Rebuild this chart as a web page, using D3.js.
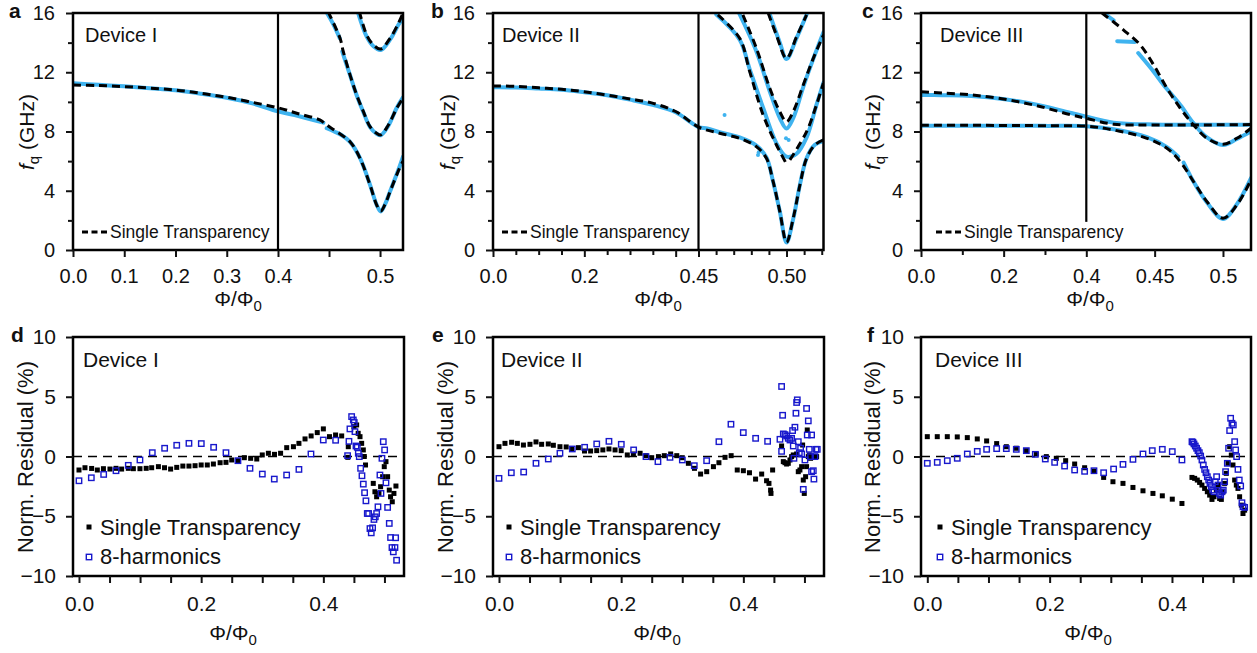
<!DOCTYPE html>
<html>
<head>
<meta charset="utf-8">
<script src="https://cdn.jsdelivr.net/npm/d3@7"></script>
<style>
body { margin: 0; background: #fff; }
text { font-family: "Liberation Sans", Arial, sans-serif; fill: #111; }
</style>
</head>
<body>
<div id="chart"></div>
<script>
// ---------- top row: f_q vs flux (theory = dashed, measured = blue) ----------
var fitA1 = [[0,11.14],[0.05,11.1],[0.1,11.03],[0.15,10.93],[0.2,10.8],[0.25,10.58],[0.3,10.31],[0.35,9.97],[0.4,9.6],[0.42,9.2],[0.441,8.78],[0.4477,8.44],[0.4576,7.99],[0.4706,7.31],[0.4804,6.19],[0.4902,4.39],[0.4967,3.04],[0.5007,2.63],[0.505,3.1],[0.5098,3.94],[0.519,5.51],[0.5225,6.0]];
var fitA2 = [[0.449,16.1],[0.4608,14.29],[0.464,13.39],[0.4706,11.82],[0.4771,10.47],[0.4837,9.34],[0.4902,8.33],[0.4967,7.88],[0.5007,7.77],[0.5082,8.44],[0.5164,9.57],[0.5225,10.25]];
var fitA3 = [[0.4797,16.1],[0.4869,14.52],[0.4935,13.84],[0.5007,13.57],[0.5098,14.29],[0.518,15.3],[0.5225,16.0]];
var dataA = [
  [[0,11.25],[0.05,11.15],[0.1,11.05],[0.15,10.92],[0.2,10.78],[0.25,10.55],[0.3,10.28],[0.35,9.9],[0.4,9.36],[0.42,9.05],[0.4445,8.6]],
  [[0.4477,8.22],[0.455,8.0],[0.4625,7.75],[0.4706,7.3],[0.4804,6.2],[0.4902,4.4],[0.4967,3.05],[0.5007,2.6],[0.505,3.1],[0.5098,3.95],[0.519,5.6],[0.5225,6.3]],
  [[0.448,16.0],[0.4545,15.2],[0.4605,14.3]],
  [[0.463,13.4],[0.4706,11.8],[0.4771,10.45],[0.4837,9.3],[0.4902,8.3],[0.4967,7.85],[0.5007,7.75],[0.5082,8.4],[0.5164,9.6],[0.5225,10.3]],
  [[0.4785,16.0],[0.4869,14.4],[0.4935,13.75],[0.5007,13.5],[0.5098,14.2],[0.518,15.2],[0.5225,15.7]]
];

var fitB1 = [[0,11.07],[0.05,11.05],[0.1,10.95],[0.15,10.85],[0.198,10.69],[0.25,10.45],[0.3,10.2],[0.351,9.9],[0.4,9.35],[0.45,8.3],[0.462,7.88],[0.4734,7.54],[0.4829,6.98],[0.4886,6.19],[0.4924,4.61],[0.4962,2.59],[0.5,0.52],[0.5038,2.14],[0.5076,4.39],[0.5114,6.19],[0.5161,7.09],[0.521,7.43]];
var fitB2 = [[0.461,15.87],[0.4734,14.29],[0.4791,12.04],[0.4867,9.12],[0.4943,7.09],[0.5003,5.74]];
var fitB2r = [[0.5019,6.08],[0.5114,7.99],[0.517,9.79],[0.5209,11.26]];
var fitB3 = [[0.4752,15.87],[0.4829,13.62],[0.4905,10.92],[0.4962,9.34],[0.5,8.66],[0.5038,9.34],[0.5095,11.14],[0.5152,12.94],[0.521,14.52]];
var fitB4 = [[0.4896,16],[0.4943,14.5],[0.5,12.94],[0.5057,14.4],[0.5114,15.87]];
var dataB = [
  [[0,10.98],[0.05,10.97],[0.1,10.9],[0.15,10.82],[0.2,10.65],[0.25,10.45],[0.3,10.15],[0.35,9.8],[0.4,9.3],[0.45,8.3],[0.455,8.2],[0.462,7.95],[0.4734,7.6],[0.4829,7.05],[0.4886,6.25],[0.4924,4.6],[0.4962,2.6],[0.5,0.5],[0.5038,2.1],[0.5076,4.4],[0.5114,6.2],[0.5161,7.1],[0.521,7.35]],
  [[0.4601,15.9],[0.4734,14.2],[0.4791,12.2],[0.4867,9.6],[0.4943,7.2],[0.5,6.3],[0.5057,6.5],[0.5114,7.6],[0.517,9.8],[0.521,11.3]],
  [[0.473,16.0],[0.4829,13.4],[0.4905,10.7],[0.4962,8.9],[0.5,8.2],[0.5038,8.9],[0.5095,11.0],[0.5152,12.9],[0.521,14.7]],
  [[0.4905,15.9],[0.4962,14.0],[0.5,12.9],[0.5057,14.3],[0.5114,15.9]]
];
var strayB = [[0.4648,9.12],[0.4838,6.41],[0.4997,7.54],[0.5012,7.43],[0.4842,6.6]];

var fitC1 = [[0,10.69],[0.05,10.6],[0.1218,10.47],[0.2027,10.18],[0.283,9.72],[0.364,9.12],[0.4,8.89],[0.42,8.49],[0.45,8.44],[0.5,8.45],[0.5205,8.47]];
var fitC2 = [[0,8.42],[0.1,8.42],[0.2,8.41],[0.3,8.39],[0.4,8.36],[0.42,8.1],[0.4444,7.54],[0.459,6.87],[0.4688,5.96],[0.4785,4.61],[0.4883,3.26],[0.5,2.14],[0.5102,3.04],[0.5205,4.73]];
var fitC3 = [[0.4115,16.0],[0.4273,14.85],[0.4395,13.84],[0.4493,12.49],[0.459,10.92],[0.4688,9.57],[0.4785,8.44],[0.4883,7.54],[0.5,7.14],[0.5102,7.54],[0.5205,8.22]];
var dataC = [
  [[0,10.47],[0.05,10.45],[0.1218,10.4],[0.2027,10.18],[0.283,9.8],[0.364,9.25],[0.4,9.0],[0.42,8.6],[0.45,8.47],[0.5,8.45],[0.5205,8.45]],
  [[0,8.39],[0.1,8.39],[0.2,8.39],[0.3,8.38],[0.4,8.36],[0.42,8.15],[0.4444,7.62],[0.459,6.95],[0.4672,6.3]],
  [[0.4712,5.9],[0.4785,4.6],[0.4883,3.2],[0.5,2.1],[0.5102,3.1],[0.5205,4.85]],
  [[0.4125,16.0],[0.42,15.5]],
  [[0.4226,14.1],[0.4355,14.05]],
  [[0.438,13.3],[0.4493,12.04],[0.4566,11.14],[0.4688,9.79],[0.4785,8.55],[0.4883,7.6],[0.5,7.09],[0.5102,7.5],[0.5205,8.0]]
];

// ---------- bottom row: normalised residuals (%) ----------
var singleD = [[0,-1.13],[0.0098,-0.94],[0.0207,-1.0],[0.03,-1.13],[0.04,-1.02],[0.0507,-1.05],[0.0606,-0.99],[0.0698,-1.05],[0.0807,-0.99],[0.089,-1.02],[0.0998,-1.02],[0.11,-0.99],[0.119,-0.94],[0.13,-0.85],[0.14,-0.94],[0.15,-1.05],[0.16,-0.91],[0.17,-0.8],[0.18,-0.8],[0.19,-0.77],[0.2,-0.71],[0.21,-0.71],[0.22,-0.63],[0.231,-0.52],[0.2406,-0.49],[0.25,-0.29],[0.261,-0.35],[0.2706,-0.1],[0.281,-0.15],[0.291,-0.21],[0.3,0.13],[0.31,0.27],[0.32,0.18],[0.33,0.27],[0.34,0.74],[0.351,0.82],[0.36,1.1],[0.37,1.47],[0.38,1.72],[0.39,2.0],[0.4,2.31],[0.41,1.66],[0.42,1.8],[0.43,1.72],[0.44,-0.07],[0.4408,0.82],[0.45,2.5],[0.4545,2.64],[0.457,1.94],[0.46,1.66],[0.4627,1.1],[0.4654,0.55],[0.467,0],[0.469,-0.71],[0.4817,-2.25],[0.4844,-2.95],[0.4872,-3.37],[0.491,-3.09],[0.4937,-2.53],[0.497,-1.69],[0.4997,-0.85],[0.5025,-0.43],[0.5052,-1.69],[0.5079,-2.81],[0.51,-3.37],[0.5128,-3.79],[0.5155,-3.09],[0.5188,-2.47]];
var harmD = [[0,-2.03],[0.0202,-1.78],[0.0404,-1.5],[0.0606,-1.19],[0.0807,-0.74],[0.0998,-0.29],[0.12,0.32],[0.1402,0.69],[0.16,0.94],[0.18,1.1],[0.2002,1.08],[0.2204,0.77],[0.2406,0.32],[0.2602,-0.35],[0.2799,-0.99],[0.3001,-1.47],[0.3197,-1.89],[0.3399,-1.55],[0.36,-1.08],[0.3797,0.21],[0.3999,1.38],[0.4201,1.36],[0.4397,0.07],[0.4419,1.27],[0.4435,2.31],[0.4463,3.34],[0.449,3.06],[0.4506,2.84],[0.4517,2.08],[0.4534,0.88],[0.4555,0.77],[0.4572,0.27],[0.4588,-0.01],[0.461,-0.99],[0.4632,-1.61],[0.4654,-2.31],[0.4675,-3.03],[0.4697,-3.71],[0.4719,-4.77],[0.4741,-4.77],[0.4763,-6.03],[0.4784,-6.39],[0.4806,-5.97],[0.4828,-5.27],[0.485,-5.05],[0.4872,-4.77],[0.4894,-4.21],[0.4926,-1.55],[0.4943,-3.09],[0.4959,-0.15],[0.4981,1.24],[0.5003,0.55],[0.5025,-2.2],[0.5052,-4.26],[0.5079,-5.6],[0.51,-6.78],[0.5123,-7.62],[0.5145,-7.98],[0.5172,-7.62],[0.5183,-6.8],[0.5199,-8.68]];

var singleE = [[0,0.82],[0.0098,1.1],[0.0207,1.19],[0.03,1.1],[0.04,0.96],[0.0507,1.02],[0.0606,1.22],[0.0698,1.02],[0.0807,1.05],[0.089,0.94],[0.0998,0.82],[0.11,0.8],[0.119,0.66],[0.13,0.74],[0.14,0.46],[0.15,0.46],[0.16,0.49],[0.17,0.55],[0.18,0.63],[0.19,0.55],[0.2,0.49],[0.21,0.13],[0.22,0.21],[0.231,0.27],[0.2406,0.07],[0.25,-0.1],[0.261,-0.01],[0.2706,0.07],[0.281,0.21],[0.291,0.07],[0.3,-0.1],[0.31,-0.57],[0.32,-0.99],[0.33,-1.47],[0.34,-1.27],[0.351,-0.85],[0.36,-0.52],[0.37,-0.07],[0.38,0.07],[0.39,-1.13],[0.4,-1.19],[0.41,-1.36],[0.42,-1.89],[0.43,-1.47],[0.438,-2.03],[0.4419,-2.25],[0.4446,-2.81],[0.4452,-3.09],[0.4479,-1.13],[0.4626,0.88],[0.4654,-0.43],[0.4681,-0.52],[0.4708,-0.63],[0.4735,-0.57],[0.4763,-0.29],[0.479,-0.01],[0.4817,0.13],[0.4872,0.21],[0.4899,-1.27],[0.4926,-1.13],[0.4954,-0.85],[0.497,0.96],[0.4981,-1.97],[0.4997,-3.09],[0.5019,-1.69],[0.5035,-0.85],[0.5046,2.22],[0.5063,-0.01],[0.5079,0.13],[0.51,-0.15],[0.5134,-0.01],[0.5172,-0.01],[0.5199,-0.01]];
var harmE = [[0,-1.83],[0.0202,-1.36],[0.0404,-1.3],[0.0606,-0.57],[0.0807,-0.21],[0.0998,0.27],[0.12,0.63],[0.1402,0.77],[0.16,1.05],[0.18,1.27],[0.2002,1.02],[0.2204,0.55],[0.2406,-0.01],[0.2602,-0.43],[0.2799,-0.07],[0.3001,-0.29],[0.3197,-0.77],[0.3399,-0.35],[0.36,1.24],[0.3797,2.7],[0.3999,2.0],[0.4201,1.52],[0.4397,1.27],[0.4599,1.44],[0.4626,5.86],[0.4643,3.45],[0.4626,0.43],[0.4654,1.89],[0.4681,1.83],[0.4708,1.72],[0.4735,1.52],[0.4763,1.38],[0.479,1.52],[0.4817,0.88],[0.4806,2.17],[0.4844,2.45],[0.4861,3.62],[0.4872,4.52],[0.4883,4.74],[0.4828,-0.15],[0.4899,1.24],[0.4916,0.32],[0.4937,0.69],[0.4954,0.21],[0.4981,-2.75],[0.5008,-0.29],[0.5035,4.02],[0.5063,2.98],[0.5046,1.8],[0.5079,0.6],[0.51,-0.01],[0.5117,1.8],[0.5117,-1.27],[0.5145,-1.19],[0.5155,-1.89],[0.5172,-0.01],[0.5188,0.6],[0.521,0.6]];

var singleF = [[0,1.66],[0.0163,1.66],[0.0327,1.66],[0.049,1.64],[0.0654,1.58],[0.0817,1.47],[0.097,1.3],[0.1134,1.08],[0.1292,0.82],[0.1455,0.69],[0.1619,0.49],[0.1782,0.21],[0.1946,-0.01],[0.2109,-0.15],[0.2262,-0.35],[0.2409,-0.63],[0.2572,-0.94],[0.2725,-1.22],[0.2883,-1.75],[0.3035,-2.11],[0.3199,-2.25],[0.3362,-2.59],[0.3526,-2.87],[0.3689,-3.09],[0.3842,-3.29],[0.4005,-3.57],[0.4163,-3.93],[0.4327,-1.75],[0.4371,-1.83],[0.4414,-1.97],[0.4452,-2.17],[0.449,-2.39],[0.4534,-2.67],[0.4578,-2.95],[0.4616,-3.23],[0.4654,-3.59],[0.4687,-3.37],[0.4725,-2.81],[0.4752,-2.39],[0.4779,-3.51],[0.4807,-3.59],[0.4834,-2.95],[0.4861,-2.25],[0.4888,-1.41],[0.4916,-0.57],[0.4943,0.82],[0.497,0.12],[0.4997,-0.71],[0.5025,-1.97],[0.5052,-2.39],[0.5079,-2.67],[0.5106,-3.37],[0.5134,-4.07],[0.5161,-4.77],[0.5188,-4.49]];
var harmF = [[0,-0.57],[0.0163,-0.49],[0.0327,-0.35],[0.049,-0.15],[0.0654,0.21],[0.0817,0.43],[0.097,0.6],[0.1134,0.66],[0.1292,0.66],[0.1455,0.6],[0.1619,0.49],[0.1766,0.18],[0.1929,-0.21],[0.2082,-0.49],[0.2245,-0.8],[0.2409,-1.13],[0.2572,-1.24],[0.2725,-1.19],[0.2883,-1.36],[0.3046,-1.05],[0.3199,-0.66],[0.3362,-0.24],[0.3526,0.21],[0.3678,0.49],[0.3842,0.6],[0.4005,0.41],[0.4163,-0.29],[0.4327,1.24],[0.4343,1.19],[0.436,1.05],[0.4381,0.88],[0.4403,0.69],[0.4425,0.49],[0.4447,0.32],[0.4469,0.04],[0.449,-0.29],[0.4512,-0.71],[0.4534,-1.08],[0.4556,-1.36],[0.4578,-1.69],[0.46,-1.97],[0.4621,-2.25],[0.4643,-2.53],[0.4665,-2.81],[0.4687,-2.95],[0.4708,-2.11],[0.473,-1.69],[0.4752,-2.39],[0.4774,-3.09],[0.4796,-3.23],[0.4817,-2.95],[0.4839,-2.81],[0.4861,-2.11],[0.4877,-1.27],[0.4905,-0.57],[0.4926,0.69],[0.4943,2.17],[0.4959,3.2],[0.4981,2.78],[0.5003,2.64],[0.5025,1.24],[0.5041,0.55],[0.5057,-0.01],[0.5079,-1.08],[0.51,-1.97],[0.5123,-2.47],[0.5144,-3.87],[0.5161,-4.21],[0.5188,-4.26]];

// tick values / labels
var ticksA = [0, 0.1, 0.2, 0.3, 0.4, 0.45, 0.5];
var labelsA = ["0.0", "0.1", "0.2", "0.3", "0.4", "", "0.5"];
var ticksB = [0, 0.2, 0.4, 0.45, 0.5];
var labelsB = ["0.0", "0.2", "", "0.45", "0.50"];
var minorB = [0.05, 0.1, 0.15, 0.25, 0.3, 0.35, 0.46, 0.47, 0.48, 0.49, 0.51, 0.52];
var ticksC = [0, 0.2, 0.4, 0.45, 0.5];
var labelsC = ["0.0", "0.2", "0.4", "0.45", "0.5"];
var minorC = [0.1, 0.3];
var freqTicks = [0, 4, 8, 12, 16];
var freqMinor = [2, 6, 10, 14];
var resTicks = [-10, -5, 0, 5, 10];
var fluxTicks = [0, 0.05, 0.1, 0.15, 0.2, 0.25, 0.3, 0.35, 0.4, 0.45, 0.5];

var lightBlue = "#3fb3ef";
var darkBlue = "#1818cc";

function init() {
    var width = 1257;
    var height = 653;

    var svg = d3.select("#chart")
        .append("svg")
        .attr("width", width)
        .attr("height", height);

    function styleAxis(sel, fontSize) {
        sel.select(".domain").remove();
        sel.selectAll(".tick line").attr("stroke", "#111").attr("stroke-width", 2);
        sel.selectAll(".tick text").style("font-size", fontSize + "px").attr("fill", "#111")
            .style("font-family", "'Liberation Sans', Arial, sans-serif");
    }

    function fluxTitle(g, cx, cy) {
        var t = g.append("text").attr("x", cx).attr("y", cy).attr("text-anchor", "middle")
            .style("font-size", "21px");
        t.append("tspan").text("\u03A6/\u03A6");
        t.append("tspan").attr("dy", 5).style("font-size", "15px").text("0");
    }

    // ----- top panels -----
    function topPanel(p) {
        var x = d3.scaleLinear().domain(p.xDomain).range(p.xRange);
        var y = d3.scaleLinear().domain([0, 16]).range([250, 13]);
        var x0 = p.xRange[0], x1 = p.xRange[p.xRange.length - 1];
        var g = svg.append("g");

        g.append("clipPath").attr("id", "clip" + p.letter)
            .append("rect").attr("x", x0).attr("y", 13).attr("width", x1 - x0).attr("height", 237);

        var line = d3.line().x(function (d) { return x(d[0]); }).y(function (d) { return y(d[1]); })
            .curve(d3.curveCatmullRom.alpha(0.5));
        var plot = g.append("g").attr("clip-path", "url(#clip" + p.letter + ")");

        p.data.forEach(function (seg) {
            plot.append("path").attr("d", line(seg)).attr("fill", "none")
                .attr("stroke", lightBlue).attr("stroke-width", 4).attr("stroke-linecap", "round");
        });
        plot.selectAll(".stray").data(p.stray || []).enter().append("circle")
            .attr("cx", function (d) { return x(d[0]); }).attr("cy", function (d) { return y(d[1]); })
            .attr("r", 2).attr("fill", lightBlue);
        p.fits.forEach(function (seg) {
            plot.append("path").attr("d", line(seg)).attr("fill", "none")
                .attr("stroke", "#000").attr("stroke-width", 3).attr("stroke-dasharray", "8,5");
        });

        // axis break line
        g.append("line").attr("x1", x(p.breakAt)).attr("x2", x(p.breakAt))
            .attr("y1", y(16)).attr("y2", y(p.breakBottom))
            .attr("stroke", "#000").attr("stroke-width", 2.2);

        g.append("rect").attr("x", x0).attr("y", 13).attr("width", x1 - x0).attr("height", 237)
            .attr("fill", "none").attr("stroke", "#000").attr("stroke-width", 2.5);

        g.append("g").attr("transform", "translate(0,250)")
            .call(d3.axisBottom(x).tickValues(p.ticks).tickSize(7).tickPadding(12)
                .tickFormat(function (d, i) { return p.labels[i]; }))
            .call(styleAxis, 20);
        if (p.minor) {
            g.append("g").attr("transform", "translate(0,250)")
                .call(d3.axisBottom(x).tickValues(p.minor).tickSize(5).tickFormat(""))
                .call(styleAxis, 20);
        }
        g.append("g").attr("transform", "translate(" + x0 + ",0)")
            .call(d3.axisLeft(y).tickValues(freqTicks).tickSize(7).tickPadding(11))
            .call(styleAxis, 20);
        g.append("g").attr("transform", "translate(" + x0 + ",0)")
            .call(d3.axisLeft(y).tickValues(freqMinor).tickSize(5).tickFormat(""))
            .call(styleAxis, 20);

        // y title
        var yt = g.append("text").attr("transform", "translate(" + p.yTitleX + ",132) rotate(-90)")
            .attr("text-anchor", "middle").style("font-size", "21px");
        yt.append("tspan").style("font-style", "italic").text("f");
        yt.append("tspan").attr("dy", 5).style("font-size", "15px").text("q");
        yt.append("tspan").attr("dy", -5).text(" (GHz)");

        fluxTitle(g, p.titleX, 306);

        g.append("text").attr("x", p.letterX).attr("y", 18).style("font-size", "21px")
            .style("font-weight", "bold").text(p.letter);
        g.append("text").attr("x", p.deviceX).attr("y", 42).style("font-size", "20px").text(p.device);

        g.append("line").attr("x1", p.legendX).attr("x2", p.legendX + 25).attr("y1", 232).attr("y2", 232)
            .attr("stroke", "#000").attr("stroke-width", 3).attr("stroke-dasharray", "6,3.5");
        g.append("text").attr("x", p.legendX + 28).attr("y", 238).style("font-size", "17.5px")
            .text("Single Transparency");
    }

    topPanel({
        letter: "a", device: "Device I",
        xDomain: [0, 0.4, 0.5225], xRange: [73, 278, 403],
        ticks: ticksA, labels: labelsA, minor: null,
        breakAt: 0.4, breakBottom: 0,
        fits: [fitA1, fitA2, fitA3], data: dataA,
        yTitleX: 34, titleX: 238, letterX: 9, deviceX: 85, legendX: 82
    });
    topPanel({
        letter: "b", device: "Device II",
        xDomain: [0, 0.45, 0.521], xRange: [493, 698.5, 823.5],
        ticks: ticksB, labels: labelsB, minor: minorB,
        breakAt: 0.45, breakBottom: 0,
        fits: [fitB1, fitB2, fitB2r, fitB3, fitB4], data: dataB, stray: strayB,
        yTitleX: 455, titleX: 658, letterX: 431, deviceX: 502, legendX: 502
    });
    topPanel({
        letter: "c", device: "Device III",
        xDomain: [0, 0.4, 0.5205], xRange: [921, 1086.3, 1251],
        ticks: ticksC, labels: labelsC, minor: minorC,
        breakAt: 0.4, breakBottom: 1.9,
        fits: [fitC1, fitC2, fitC3], data: dataC,
        yTitleX: 880, titleX: 1090, letterX: 862, deviceX: 940, legendX: 936
    });

    // ----- bottom panels -----
    function bottomPanel(p) {
        var x = d3.scaleLinear().domain(p.xDomain).range(p.xRange);
        var y = d3.scaleLinear().domain([-10, 10]).range([576, 337]);
        var x0 = p.xRange[0], x1 = p.xRange[1];
        var g = svg.append("g");

        g.append("line").attr("x1", x0).attr("x2", x1).attr("y1", y(0)).attr("y2", y(0))
            .attr("stroke", "#000").attr("stroke-width", 1.6).attr("stroke-dasharray", "9,6");

        g.selectAll(".single").data(p.single).enter().append("rect")
            .attr("x", function (d) { return x(d[0]) - 2.5; }).attr("y", function (d) { return y(d[1]) - 2.5; })
            .attr("width", 5).attr("height", 5).attr("fill", "#000");
        g.selectAll(".harm").data(p.harm).enter().append("rect")
            .attr("x", function (d) { return x(d[0]) - 2.7; }).attr("y", function (d) { return y(d[1]) - 2.7; })
            .attr("width", 5.4).attr("height", 5.4).attr("fill", "none")
            .attr("stroke", darkBlue).attr("stroke-width", 1.4);

        g.append("rect").attr("x", x0).attr("y", 337).attr("width", x1 - x0).attr("height", 239)
            .attr("fill", "none").attr("stroke", "#000").attr("stroke-width", 2.5);

        g.append("g").attr("transform", "translate(0,576)")
            .call(d3.axisBottom(x).tickValues(fluxTicks).tickSize(7).tickPadding(13)
                .tickFormat(function (d) { return [0, 0.2, 0.4].indexOf(d) >= 0 ? d3.format(".1f")(d) : ""; }))
            .call(styleAxis, 21);
        g.append("g").attr("transform", "translate(" + x0 + ",0)")
            .call(d3.axisLeft(y).tickValues(resTicks).tickSize(7).tickPadding(10))
            .call(styleAxis, 21);

        g.append("text").attr("transform", "translate(" + p.yTitleX + ",457) rotate(-90)")
            .attr("text-anchor", "middle").style("font-size", "22px").text("Norm. Residual (%)");

        fluxTitle(g, p.titleX, 640);

        g.append("text").attr("x", p.letterX).attr("y", 342).style("font-size", "21px")
            .style("font-weight", "bold").text(p.letter);
        g.append("text").attr("x", p.deviceX).attr("y", 367).style("font-size", "21px").text(p.device);

        g.append("rect").attr("x", p.legendX - 2.5).attr("y", 524.5).attr("width", 5).attr("height", 5)
            .attr("fill", "#000");
        g.append("text").attr("x", p.legendX + 11).attr("y", 535).style("font-size", "22px")
            .text("Single Transparency");
        g.append("rect").attr("x", p.legendX - 2.7).attr("y", 554.3).attr("width", 5.4).attr("height", 5.4)
            .attr("fill", "none").attr("stroke", darkBlue).attr("stroke-width", 1.4);
        g.append("text").attr("x", p.legendX + 11).attr("y", 564).style("font-size", "22px")
            .text("8-harmonics");
    }

    bottomPanel({
        letter: "d", device: "Device I", single: singleD, harm: harmD,
        xDomain: [-0.0098, 0.532], xRange: [73, 404],
        yTitleX: 33, titleX: 233, letterX: 11, deviceX: 83, legendX: 89
    });
    bottomPanel({
        letter: "e", device: "Device II", single: singleE, harm: harmE,
        xDomain: [-0.0098, 0.532], xRange: [493, 824],
        yTitleX: 453, titleX: 657, letterX: 432, deviceX: 501, legendX: 509
    });
    bottomPanel({
        letter: "f", device: "Device III", single: singleF, harm: harmF,
        xDomain: [-0.0103, 0.5292], xRange: [921, 1251],
        yTitleX: 880, titleX: 1088, letterX: 867, deviceX: 935, legendX: 940
    });
}

window.onload = init;
</script>
</body>
</html>
